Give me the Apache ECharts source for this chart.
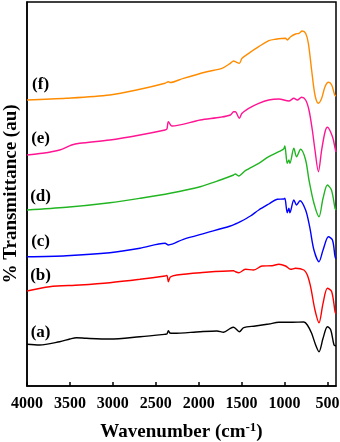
<!DOCTYPE html>
<html>
<head>
<meta charset="utf-8">
<script src="https://cdn.jsdelivr.net/npm/echarts@6/dist/echarts.min.js"></script>
<style>
  html, body { margin: 0; padding: 0; background: #fff; }
  #chart { width: 340px; height: 442px; }
</style>
</head>
<body>
<div id="chart"></div>
<script>
  // 刻度
  const tickValues = [500, 1000, 1500, 2000, 2500, 3000, 3500, 4000]
  const sampleNames = ['(a)', '(b)', '(c)', '(d)', '(e)', '(f)']
  const lineColors = ['#000000', '#ff0000', '#0000ff', '#22b522', '#ff1493', '#ff8c00']

  // [wavenumber, transmittance(au)]
  const curveA = [[4000,41.7],[3854,41],[3620,44.3],[3500,47],[3425,48.3],[3308,47.7],[3035,47],[2684,49.3],[2392,51.7],[2370,52],[2353,55.3],[2335,53],[2295,52.7],[1982,54.3],[1787,55],[1710,53.7],[1631,57.7],[1593,58.7],[1526,54.3],[1475,58.3],[1339,60],[1183,62],[1066,63.7],[910,63.7],[774,64],[734,61],[684,52.7],[637,41],[598,34.3],[551,47.7],[500,59.3],[461,56],[423,41],[400,40]]
  const curveB = [[4000,95],[3737,99.3],[3386,101],[3035,103.3],[2684,106.7],[2392,110],[2370,110.5],[2353,104.3],[2330,109],[2255,111],[1982,113.3],[1593,115.3],[1573,114.3],[1530,113.3],[1456,116.7],[1359,116],[1261,120],[1144,120.3],[1066,121.7],[988,120],[929,116.7],[871,117.7],[774,116],[734,111],[696,99.3],[645,76],[598,63.3],[551,82.7],[500,97.7],[450,94.3],[411,74.3],[400,72]]
  const curveC = [[4000,129.3],[3541,130.3],[3035,133.3],[2684,137.7],[2392,142.7],[2353,141],[2178,146.7],[1904,153.3],[1631,160],[1560,162.5],[1514,164.3],[1397,170],[1300,176],[1183,182],[1085,186.7],[1010,187],[996,187.7],[968,173.3],[949,177.7],[937,173.3],[891,186],[860,181],[820,185.3],[754,176],[707,159.3],[657,136],[598,124.3],[551,136],[488,149.3],[441,146],[411,129.3],[400,127]]
  const curveD = [[4000,176],[3541,178.7],[3035,183.3],[2684,187.7],[2333,192.7],[1982,199.3],[1748,206],[1593,211],[1573,212],[1534,210],[1456,215.3],[1300,222.7],[1183,229.3],[1066,234.3],[1010,237],[996,240],[968,222.7],[949,226],[937,222.7],[891,237.7],[860,229.3],[812,236.7],[754,226],[715,206],[657,182.7],[598,169.3],[551,187.7],[500,201],[453,196],[411,177.7],[400,176]]
  const curveE = [[4000,231],[3820,232.7],[3620,236],[3480,241],[3386,242.7],[3035,246],[2684,251],[2392,256],[2370,257],[2353,264.3],[2313,260],[1982,266],[1748,268.7],[1631,271],[1593,274.3],[1573,274.3],[1526,267.7],[1495,272.7],[1417,277.7],[1300,282.7],[1183,286],[1066,287],[949,285],[891,287.7],[851,286],[801,288.7],[754,286],[715,276],[676,256],[645,236],[605,214.3],[567,236],[528,254],[500,258.7],[441,249.3],[411,238],[400,234]]
  const curveF = [[4000,286],[3541,287.7],[3035,291],[2684,296.7],[2392,302.7],[2353,304.3],[2330,303.5],[2178,307.7],[1904,314.3],[1729,317.7],[1631,322.7],[1593,325],[1573,324.3],[1526,322.7],[1495,327.7],[1417,332.7],[1300,339.3],[1183,345.3],[1105,346.7],[988,347.7],[968,346],[929,349.3],[871,352],[832,352.7],[793,355],[754,352.7],[722,342.7],[684,316],[645,291],[605,282.7],[567,287.7],[528,299.3],[488,303.7],[450,301],[415,291],[400,290]]
  const curveList = [curveA, curveB, curveC, curveD, curveE, curveF]
  // 标签位置
  const labelAt = [[3842,53.3],[3842,110],[3842,144.3],[3842,189.3],[3842,247.7],[3842,301]]

  const serifFont = '"Times New Roman", "Liberation Serif", serif'
  const chart = echarts.init(document.getElementById('chart'))

  const option = {
    animation: false,
    grid: {
      left: 27, right: 4, top: 2, bottom: 56,
      outerBoundsMode: 'none',
      containLabel: false,
      show: true,
      borderColor: '#000',
      borderWidth: 1.5
    },
    xAxis: {
      type: 'value',
      min: 400,
      max: 4000,
      inverse: true,
      name: 'Wavenumber (cm{sup|-1})',
      nameLocation: 'middle',
      nameGap: 35,
      nameTextStyle: {
        fontFamily: serifFont,
        fontWeight: 'bold',
        fontSize: 19,
        color: '#000',
        rich: {
          sup: { fontFamily: serifFont, fontWeight: 'bold', fontSize: 13, color: '#000', padding: [0, 0, 9, 0] }
        }
      },
      axisLine: { lineStyle: { color: '#000', width: 1.5 } },
      axisTick: { inside: true, length: 4, customValues: tickValues, lineStyle: { color: '#000', width: 1.5 } },
      axisLabel: {
        customValues: tickValues,
        margin: 10,
        hideOverlap: false,
        showMinLabel: true,
        showMaxLabel: true,
        formatter: (v) => String(v),
        fontFamily: serifFont,
        fontWeight: 'bold',
        fontSize: 16,
        color: '#000'
      },
      splitLine: { show: false }
    },
    yAxis: {
      type: 'value',
      min: 0,
      max: 384,
      name: '% Transmittance (au)',
      nameLocation: 'middle',
      nameGap: 6,
      nameTextStyle: { fontFamily: serifFont, fontWeight: 'bold', fontSize: 19, color: '#000' },
      axisLine: { show: true, lineStyle: { color: '#000', width: 1.5 } },
      axisTick: { show: false },
      axisLabel: { show: false },
      splitLine: { show: false }
    },
    series: curveList.map((curve, i) => {
      return {
        type: 'line',
        data: curve,
        symbol: 'none',
        smooth: 0.3,
        lineStyle: { color: lineColors[i], width: 1.4 },
        markPoint: {
          symbol: 'circle',
          symbolSize: 0,
          silent: true,
          data: [{ coord: labelAt[i] }],
          label: {
            show: true,
            position: 'inside',
            formatter: sampleNames[i],
            fontFamily: serifFont,
            fontWeight: 'bold',
            fontSize: 17,
            color: '#000'
          }
        }
      }
    })
  }
  chart.setOption(option)
</script>
</body>
</html>
